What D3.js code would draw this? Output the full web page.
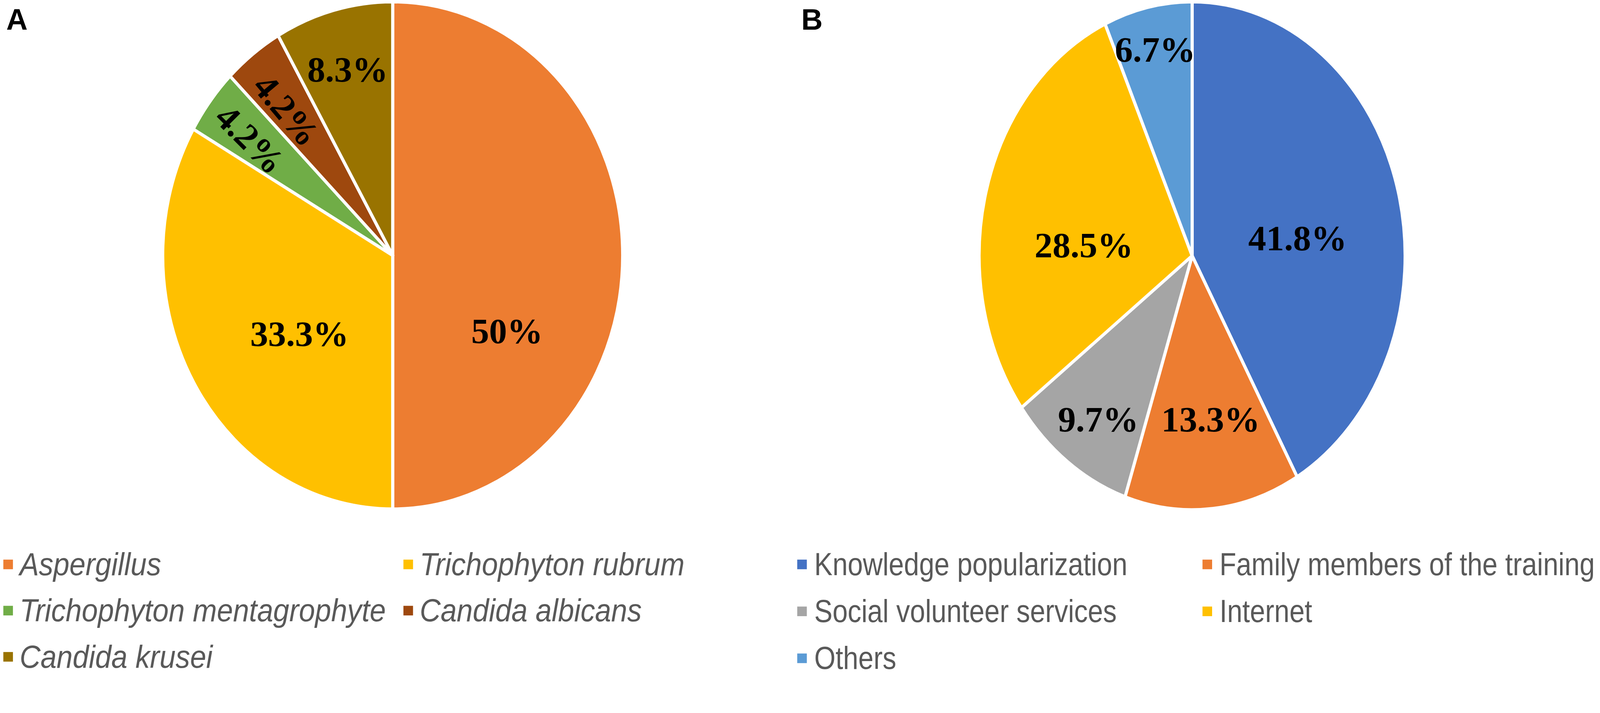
<!DOCTYPE html>
<html>
<head>
<meta charset="utf-8">
<script src="https://cdn.jsdelivr.net/npm/d3@7.9.0/dist/d3.min.js"></script>
<style>
  html, body { margin: 0; padding: 0; background: #fff; overflow: hidden; }
  svg { display: block; width: 100vw; height: 100vh; }
</style>
</head>
<body>
<div id="chart"></div>
<script>
// Panel A: fungal species
const fungiNames = ['Aspergillus', 'Trichophyton rubrum', 'Trichophyton mentagrophyte', 'Candida albicans', 'Candida krusei'];
const fungiValues = [50, 33.3, 4.2, 4.2, 8.3];
const fungiLabels = ['50%', '33.3%', '4.2%', '4.2%', '8.3%'];

// Panel B: knowledge sources
const sourceNames = ['Knowledge popularization', 'Family members of the training', 'Social volunteer services', 'Internet', 'Others'];
const sourceValues = [41.8, 13.3, 9.7, 28.5, 6.7];
const sourceLabels = ['41.8%', '13.3%', '9.7%', '28.5%', '6.7%'];

const width = 4327;
const height = 1826;

const svg = d3.select('#chart')
  .append('svg')
  .attr('viewBox', `0 0 ${width} ${height}`)
  .attr('preserveAspectRatio', 'xMidYMin meet');

svg.append('rect').attr('width', width).attr('height', height).attr('fill', '#fff');

// label nudges (degrees off the slice middle, radius fraction, optional rotation)
const spotsA = [
  { turn: 31, r: 0.58 },
  { turn: -7.3, r: 0.51 },
  { turn: -1, r: 0.77, rot: 45 },
  { turn: -1.4, r: 0.735, rot: 50 },
  { turn: 0, r: 0.76 },
];
const spotsB = [
  { turn: 6.7, r: 0.50 },
  { turn: -2.1, r: 0.65 },
  { turn: -1.4, r: 0.78 },
  { turn: -9.8, r: 0.51 },
  { turn: 0, r: 0.83 },
];

function drawPanel(opt) {
  const { names, values, labels, colors, cx, cy, rx, ry, spots, letter, letterX,
          legend } = opt;
  const sx = rx / ry;
  const color = d3.scaleOrdinal().domain(names).range(colors);

  const pie = d3.pie().sort(null).value((d) => d.value);
  const rows = names.map((n, i) => ({ name: n, value: values[i], label: labels[i] }));
  const arcs = pie(rows);
  const arc = d3.arc().innerRadius(0).outerRadius(ry);

  const g = svg.append('g').attr('transform', `translate(${cx},${cy}) scale(${sx},1)`);
  g.selectAll('path')
    .data(arcs)
    .join('path')
    .attr('d', arc)
    .attr('fill', (d) => color(d.data.name))
    .attr('stroke', '#fff')
    .attr('stroke-width', 8)
    .attr('vector-effect', 'non-scaling-stroke')
    .attr('stroke-linejoin', 'round');

  // percentage labels
  svg.append('g')
    .selectAll('text')
    .data(arcs)
    .join('text')
    .attr('transform', (d, i) => {
      const s = spots[i];
      const a = (d.startAngle + d.endAngle) / 2 + (s.turn * Math.PI) / 180;
      const rr = ry * s.r;
      const [px, py] = d3.arc().innerRadius(rr).outerRadius(rr)
        .centroid({ startAngle: a, endAngle: a });
      const x = cx + px * sx;
      const y = cy + py;
      return `translate(${x},${y})` + (s.rot ? ` rotate(${s.rot})` : '');
    })
    .attr('text-anchor', 'middle')
    .attr('dy', '0.34em')
    .attr('font-family', '"Liberation Serif", "Times New Roman", serif')
    .attr('font-weight', 'bold')
    .attr('font-size', 97)
    .attr('fill', '#000')
    .text((d) => d.data.label);

  // panel letter
  svg.append('text')
    .attr('x', letterX)
    .attr('y', 80)
    .attr('font-family', '"Liberation Sans", Arial, sans-serif')
    .attr('font-weight', 'bold')
    .attr('font-size', 80)
    .attr('fill', '#000')
    .text(letter);

  // legend, two columns
  const lg = svg.append('g');
  const item = lg.selectAll('g')
    .data(names)
    .join('g')
    .attr('transform', (d, i) =>
      `translate(${legend.cols[i % 2]},${legend.rows[Math.floor(i / 2)]})`);

  item.append('rect')
    .attr('x', 0)
    .attr('y', -42)
    .attr('width', 26)
    .attr('height', 26)
    .attr('fill', (d) => color(d));

  item.append('text')
    .attr('transform', `translate(${legend.gap},0) scale(${legend.squeeze},1)`)
    .attr('font-family', '"Liberation Sans", Arial, sans-serif')
    .attr('font-style', legend.italic ? 'italic' : 'normal')
    .attr('font-size', legend.size)
    .attr('fill', '#595959')
    .text((d) => d);
}

drawPanel({
  names: fungiNames,
  values: fungiValues,
  labels: fungiLabels,
  colors: ['#ED7D31', '#FFC000', '#70AD47', '#9E480E', '#997300'],
  cx: 1062, cy: 691, rx: 622, ry: 686,
  spots: spotsA,
  letter: 'A', letterX: 17,
  legend: { cols: [9, 1091], rows: [1556, 1681, 1806], gap: 44, size: 86, squeeze: 0.91, italic: true },
});

drawPanel({
  names: sourceNames,
  values: sourceValues,
  labels: sourceLabels,
  colors: ['#4472C4', '#ED7D31', '#A5A5A5', '#FFC000', '#5B9BD5'],
  cx: 3224, cy: 692, rx: 576, ry: 687,
  spots: spotsB,
  letter: 'B', letterX: 2167,
  legend: { cols: [2156, 3252], rows: [1556, 1683, 1810], gap: 46, size: 86, squeeze: 0.86, italic: false },
});
</script>
</body>
</html>
